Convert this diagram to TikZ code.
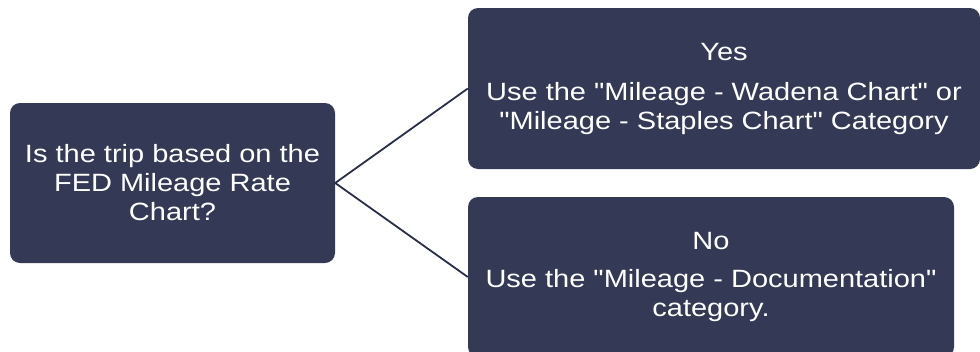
\documentclass[tikz,border=0pt]{standalone}
\usepackage{fontspec}
\setmainfont{Liberation Sans}
\newfontfamily\boxfont[FakeStretch=1.16,Ligatures=TeXOff]{Liberation Sans}
\definecolor{boxfill}{RGB}{52,58,86}
\definecolor{linecol}{RGB}{40,46,72}
\begin{document}
\begin{tikzpicture}[x=1pt,y=-1pt,
  flowbox/.style={draw=none, fill=boxfill, rounded corners=10pt, text=white,
    align=center, inner sep=0pt, font=\boxfont\fontsize{25}{29}\selectfont},
  link/.style={draw=linecol, line width=1.8pt}]
\useasboundingbox (0,0) rectangle (980,351);
\node[flowbox, minimum width=325pt, minimum height=160pt] (q) at (172.5,183)
  {Is the trip based on the\\FED Mileage Rate\\Chart?};
\node[flowbox, minimum width=512pt, minimum height=161pt] (yes) at (724,88.5)
  {Yes\\[11pt]Use the "Mileage - Wadena Chart" or\\"Mileage - Staples Chart" Category};
\node[flowbox, minimum width=486pt, minimum height=160pt] (no) at (711,277)
  {No\\[9pt]Use the "Mileage - Documentation"\\category.};
\draw[link] (yes.west) -- (q.east) -- (no.west);
\end{tikzpicture}
\end{document}
